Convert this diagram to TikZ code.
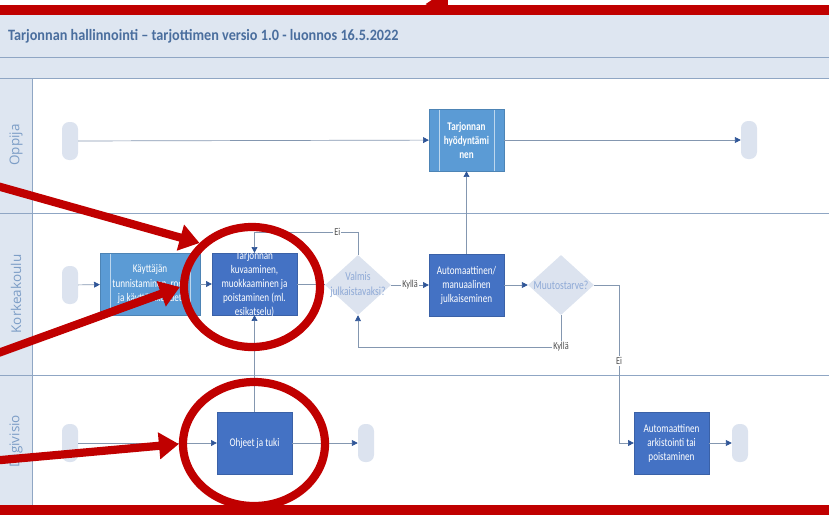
\documentclass[tikz,border=0pt]{standalone}
\usepackage{fontspec}
\setmainfont{Carlito}
\newfontfamily\boxfont{Carlito}[FakeStretch=0.78]
\newfontfamily\titlefont{Carlito}[FakeStretch=0.9]
\newfontfamily\lanefont{Open Sans}
\usepackage{tikz}
\usetikzlibrary{positioning}
\usetikzlibrary{arrows,arrows.meta,shapes}
\usetikzlibrary{shapes.geometric}
\usetikzlibrary{calc}
\definecolor{lanefill}{HTML}{DEE6F1}
\definecolor{laneline}{HTML}{8FA6C4}
\definecolor{titleblue}{HTML}{4A6E9E}
\definecolor{lanetext}{HTML}{7C9DC6}
\definecolor{darkbox}{HTML}{4472C4}
\definecolor{lightbox}{HTML}{5B9BD5}
\definecolor{termfill}{HTML}{DCE3EF}
\definecolor{dectext}{HTML}{8EA9D6}
\definecolor{flowline}{HTML}{8497B0}
\definecolor{tipblue}{HTML}{2F5597}
\definecolor{annot}{HTML}{C00000}
\tikzstyle{terminal}=[rectangle,rounded corners=6pt,fill=termfill,minimum width=0.48cm,minimum height=1.14cm,inner sep=0pt]
\tikzstyle{task}=[rectangle,fill=darkbox,draw=darkbox!85!black,very thin,text=white,align=center,minimum width=2.25cm,minimum height=1.86cm,inner sep=1pt,font=\boxfont\fontsize{10}{12}\selectfont]
\tikzstyle{subtask}=[task,fill=lightbox,draw=lightbox!85!black,path picture={
    \draw[white!60!lightbox] ([xshift=0.3cm]path picture bounding box.north west) -- ([xshift=0.3cm]path picture bounding box.south west);
    \draw[white!60!lightbox] ([xshift=-0.3cm]path picture bounding box.north east) -- ([xshift=-0.3cm]path picture bounding box.south east);}]
\tikzstyle{boxtext}=[text=white,align=center,inner sep=0pt,font=\boxfont\fontsize{10}{12}\selectfont]
\tikzstyle{decision}=[diamond,fill=termfill,minimum width=1.98cm,minimum height=1.8cm,inner sep=0pt]
\tikzstyle{declabel}=[text=dectext,align=center,inner sep=0pt,font=\boxfont\fontsize{10.5}{12.5}\selectfont]
\tikzstyle{edge} = [draw,flowline,semithick,-{Triangle[length=5pt,width=5pt,color=tipblue]}]
\tikzstyle{undirectededge} = [draw,flowline,semithick]
\tikzstyle{weight} = [font=\boxfont\fontsize{9}{10}\selectfont,text=black!70,fill=white,inner sep=1pt]
\tikzstyle{lanelabel}=[rotate=90,text=lanetext,font=\lanefont\fontsize{11.5}{13}\selectfont]
\tikzstyle{annotarrow}=[draw=annot,line width=7pt,-{Triangle[length=17pt,width=22pt]}]
\tikzstyle{annotring}=[draw=annot,line width=7pt,ellipse,inner sep=0pt]

\begin{document}
\begin{tikzpicture}[x=0.03cm,y=-0.03cm]
    \useasboundingbox (0,0) rectangle (829,520);

    % swimlane frame
    \fill[lanefill] (0,14) rectangle (829,78);
    \fill[lanefill] (0,78) rectangle (32,505);
    \foreach \y in {14,57,78,213,375,505}
        \draw[laneline] (0,\y) -- (829,\y);
    \draw[laneline] (32,78) -- (32,505);
    \node[anchor=west,text=titleblue,font=\titlefont\bfseries\fontsize{13.5}{15}\selectfont] (title) at (4,36) {Tarjonnan hallinnointi – tarjottimen versio 1.0 - luonnos 16.5.2022};
    \foreach \y/\name/\label in {145/laneO/Oppija, 294/laneK/Korkeakoulu, 441/laneD/Digivisio}
        \node[lanelabel] (\name) at (16,\y) {\label};

    % start and end points
    \foreach \pos/\name in {(70,141)/oS, (749,140)/oE, (70,285)/kS, (70,443)/dS, (366,443)/dE, (740,443)/dFE}
        \node[terminal] (\name) at \pos {};

    % tasks
    \node[subtask] (oT) at (466.5,140) {\bfseries Tarjonnan\\\bfseries hyödyntämi\\\bfseries nen};
    \node[subtask,minimum width=3cm] (kA) at (150,284) {Käyttäjän\\tunnistaminen, rooli\\ja käyttöoikeudet};
    \node[task,minimum width=2.55cm] (kB) at (254.5,284) {};
    \node[boxtext] (kBtext) at (kB) {Tarjonnan\\kuvaaminen,\\muokkaaminen ja\\poistaminen (ml.\\esikatselu)};
    \node[task] (kC) at (466.5,285) {Automaattinen/\\manuaalinen\\julkaiseminen};
    \node[task] (dO) at (254.5,443) {Ohjeet ja tuki};
    \node[task] (dF) at (671.5,443) {Automaattinen\\arkistointi tai\\poistaminen};

    % decisions
    \foreach \pos/\name/\label in {{(358,285)/kD1/{Valmis\\julkaistavaksi?}}, {(561,285)/kD2/{Muutostarve?}}}{
        \node[decision] (\name) at \pos {};
        \node[declabel] at (\name) {\label};
    }

    \coordinate (eiTop) at (254.5,232);
    \coordinate (kylTurn) at (561,347);
    \coordinate (eiTurn) at (619,285);

    \foreach \source/ \dest in {oS/oT, oT/oE, kS/kA, kA/kB, kB/kD1, kC/kD2, dS/dO, dO/dE, dF/dFE}
        \path[edge] (\source) -- (\dest);
    \path[edge] (kC.north) -- (oT.south);
    \path[edge] (dO.north) -- (kB.south);
    \path[edge] (kD1) -- node[weight] {Kyllä} (kC);
    \path[edge] (kD1.north) |- node[weight,pos=0.6] {Ei} (eiTop) -- (kB.north);
    \path[undirectededge] (kD2.south) -- (kylTurn);
    \path[edge] (kylTurn) -| (kD1.south);
    \node[weight] at (kylTurn) {Kyllä};
    \path[edge] (kD2.east) -- (eiTurn) |- node[weight,pos=0.24] {Ei} (dF.west);

    % red annotation
    \draw[annot,line width=8pt] (0,10) -- (829,10);
    \draw[annot,line width=8pt] (0,510) -- (829,510);
    \node[annotring,minimum width=4.08cm,minimum height=3.6cm] (ring1) at (252,287) {};
    \node[annotring,minimum width=4.26cm,minimum height=3.72cm] (ring2) at (254,444) {};
    \coordinate (tailA) at (-10,184);
    \coordinate (tailB) at (-10,356);
    \coordinate (tailC) at (-10,461);
    \coordinate (tailT) at (405,-50);
    \path[annotarrow] (tailA) -- (ring1.140);
    \path[annotarrow] (tailB) -- (ring1.west);
    \path[annotarrow] (tailC) -- (ring2.west);
    \path[annotarrow] (tailT) -- (448,13);
\end{tikzpicture}
\end{document}
